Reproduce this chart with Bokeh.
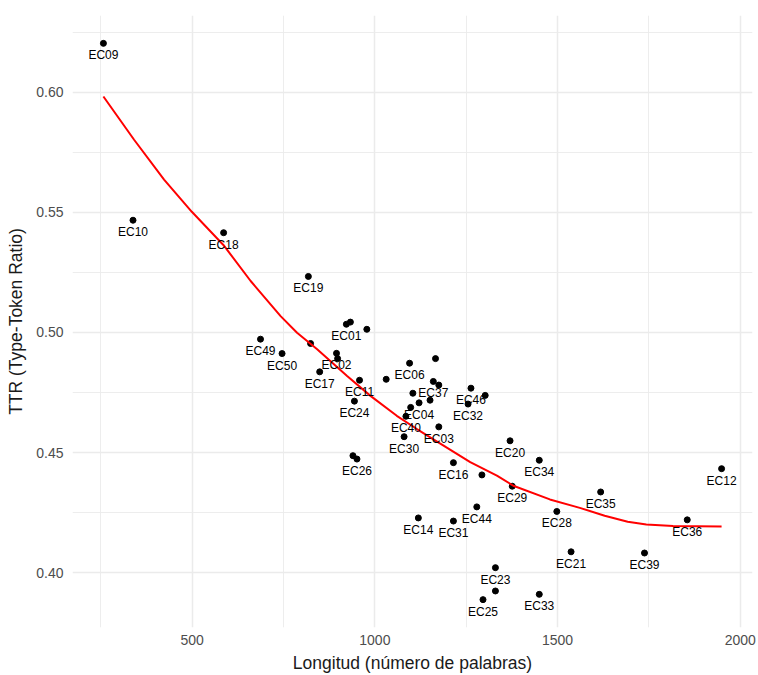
from bokeh.plotting import figure
from bokeh.models import ColumnDataSource, Range1d, FixedTicker, PrintfTickFormatter
from bokeh.core.properties import value
from bokeh.embed import file_html
from bokeh.resources import INLINE

# Ensayos: longitud en palabras y TTR (etiqueta vacía = sin rótulo visible)
etiqueta = ["EC09", "EC10", "EC18", "EC19", "EC01", "", "", "EC49", "", "EC50",
            "EC02", "", "EC17", "EC11", "EC24", "", "EC06", "", "EC37", "",
            "", "", "EC04", "", "EC40", "EC03", "EC30", "EC46", "", "EC32",
            "", "EC26", "EC20", "EC34", "EC16", "", "EC29", "EC44", "EC14", "EC31",
            "EC28", "EC35", "EC21", "EC23", "", "EC25", "EC33", "EC12", "EC36", "EC39"]
longitud = [257, 338, 586, 818, 922, 933, 978, 687, 824, 746,
            895, 898, 849, 958, 944, 1031, 1095, 1166, 1160, 1175,
            1104, 1151, 1121, 1098, 1085, 1175, 1080, 1263, 1302, 1255,
            940, 951, 1370, 1450, 1215, 1293, 1376, 1279, 1119, 1215,
            1498, 1618, 1537, 1330, 1330, 1296, 1450, 1949, 1855, 1738]
ttr = [0.6203, 0.5467, 0.5415, 0.5233, 0.5034, 0.5043, 0.5013, 0.4972, 0.4954, 0.4912,
       0.4913, 0.4891, 0.4836, 0.4801, 0.4714, 0.4805, 0.4872, 0.4891, 0.4796, 0.4781,
       0.4747, 0.4718, 0.4707, 0.4688, 0.4651, 0.4607, 0.4566, 0.4768, 0.4738, 0.4702,
       0.4487, 0.4473, 0.4549, 0.4468, 0.4458, 0.4407, 0.4360, 0.4274, 0.4228, 0.4215,
       0.4255, 0.4336, 0.4087, 0.4021, 0.3924, 0.3888, 0.3910, 0.4433, 0.4220, 0.4082]

# Curva suavizada (loess)
curva_x = [257, 341, 423, 499, 586, 660, 742, 787, 842, 924, 988, 1060, 1115,
           1188, 1261, 1334, 1379, 1479, 1561, 1629, 1692, 1743, 1816, 1949]
curva_y = [0.5982, 0.5802, 0.5636, 0.5502, 0.5363, 0.5214, 0.5068, 0.4999, 0.4930,
           0.4819, 0.4736, 0.4653, 0.4598, 0.4529, 0.4460, 0.4404, 0.4362, 0.4305,
           0.4270, 0.4237, 0.4212, 0.4201, 0.4194, 0.4192]

x_ticks = [500, 1000, 1500, 2000]
x_minor = [250, 750, 1250, 1750]
y_ticks = [0.40, 0.45, 0.50, 0.55, 0.60]
y_minor = [0.425, 0.475, 0.525, 0.575, 0.625]

FONT = "Liberation Sans"

src = ColumnDataSource(dict(x=longitud, y=ttr, lab=etiqueta))
lab_idx = [i for i, e in enumerate(etiqueta) if e]
src_lab = ColumnDataSource(dict(x=[longitud[i] for i in lab_idx],
                                y=[ttr[i] for i in lab_idx],
                                lab=[etiqueta[i] for i in lab_idx]))

p = figure(width=758, height=675, output_backend="svg", toolbar_location=None,
           x_range=Range1d(172.4, 2033.6), y_range=Range1d(0.3772, 0.6319),
           min_border_left=72, min_border_right=6, min_border_top=15,
           min_border_bottom=47)

p.background_fill_color = "white"
p.border_fill_color = "white"
p.outline_line_color = None

p.xaxis.ticker = FixedTicker(ticks=x_ticks, minor_ticks=x_minor)
p.yaxis.ticker = FixedTicker(ticks=y_ticks, minor_ticks=y_minor)
p.yaxis.formatter = PrintfTickFormatter(format="%.2f")

for ax in (p.xaxis, p.yaxis):
    ax.axis_line_color = None
    ax.major_tick_line_color = None
    ax.minor_tick_line_color = None
    ax.major_tick_out = 0
    ax.minor_tick_out = 0
    ax.major_label_text_font = FONT
    ax.major_label_text_font_size = "14px"
    ax.major_label_text_color = "#4D4D4D"
    ax.axis_label_text_font = FONT
    ax.axis_label_text_font_size = "17.5px"
    ax.axis_label_text_font_style = "normal"
    ax.axis_label_text_color = "#1A1A1A"

p.xaxis.axis_label = "Longitud (número de palabras)"
p.yaxis.axis_label = "TTR (Type-Token Ratio)"
p.xaxis.major_label_standoff = 7
p.yaxis.major_label_standoff = 9
p.xaxis.axis_label_standoff = 5
p.yaxis.axis_label_standoff = 7

for g in (p.xgrid, p.ygrid):
    g.grid_line_color = "#EBEBEB"
    g.grid_line_width = 1.5
    g.minor_grid_line_color = "#EBEBEB"
    g.minor_grid_line_width = 0.9

p.scatter("x", "y", source=src, size=6, color="black")
p.line(curva_x, curva_y, line_color="#FF0000", line_width=2)
p.text("x", "y", text="lab", source=src_lab, text_font=value(FONT),
       text_font_size="12px", text_color="black", text_align="center",
       text_baseline="middle", y_offset=12)

open("out.html", "w").write(file_html(p, INLINE))
